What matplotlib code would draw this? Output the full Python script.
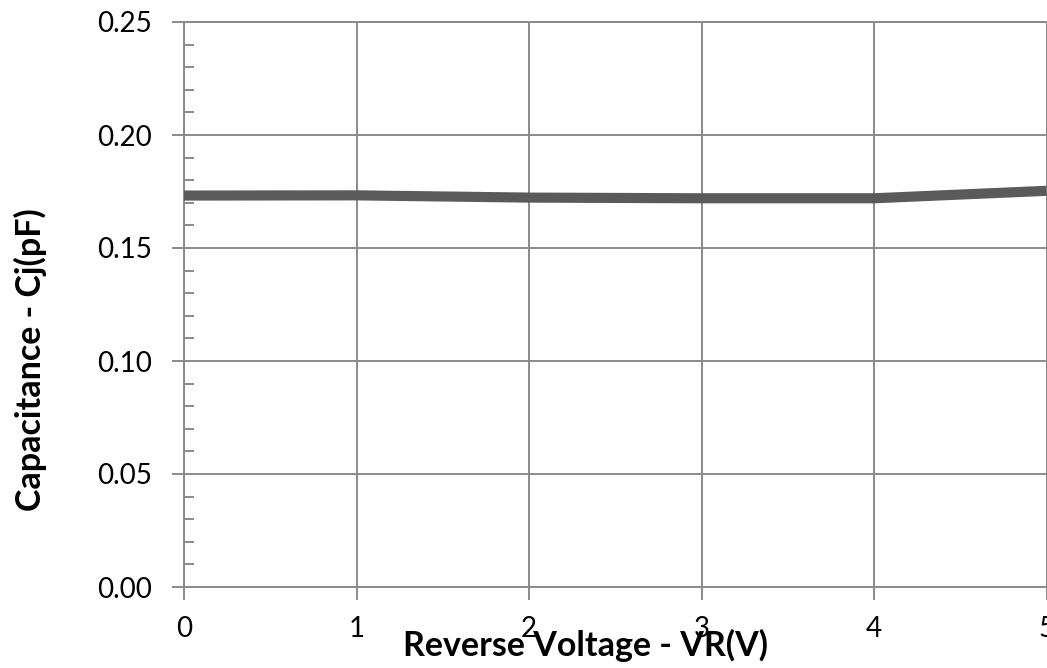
import matplotlib
matplotlib.use("Agg")
import matplotlib.pyplot as plt
from matplotlib.ticker import MultipleLocator

# Data
voltage = [0, 1, 2, 3, 4, 5]
capacitance = [0.1732, 0.1733, 0.1723, 0.1720, 0.1720, 0.1753]
x_ticks = [0, 1, 2, 3, 4, 5]
y_ticks = [0.00, 0.05, 0.10, 0.15, 0.20, 0.25]
y_tick_labels = ["0.00", "0.05", "0.10", "0.15", "0.20", "0.25"]
x_label = "Reverse Voltage - VR(V)"
y_label = "Capacitance - Cj(pF)"

plt.rcParams['font.family'] = ['Lato', 'DejaVu Sans']

W, H = 1047, 668
fig = plt.figure(figsize=(W / 100, H / 100), dpi=100)
ax = fig.add_axes([184 / W, 1 - 587 / H, (1046.5 - 184) / W, (587 - 22) / H])

grid_color = "#8a8a8a"
ax.plot(voltage, capacitance, color="#5a5a5a", linewidth=7.3,
        solid_joinstyle="round", solid_capstyle="butt", zorder=3, clip_on=False)

ax.set_xlim(0, 5)
ax.set_ylim(0, 0.25)
ax.set_xticks(x_ticks)
ax.set_xticklabels([str(v) for v in x_ticks])
ax.set_yticks(y_ticks)
ax.set_yticklabels(y_tick_labels)
ax.yaxis.set_minor_locator(MultipleLocator(0.01))

ax.grid(True, which="major", color=grid_color, linewidth=1.4)
ax.set_axisbelow(True)
for s in ax.spines.values():
    s.set_color(grid_color)
    s.set_linewidth(1.4)

ax.tick_params(axis="both", which="major", direction="out", length=9,
               width=1.4, color=grid_color, labelsize=20, labelcolor="black")
ax.tick_params(axis="y", which="major", pad=14)
ax.tick_params(axis="x", which="major", pad=12)
ax.tick_params(axis="y", which="minor", direction="in", length=7,
               width=1.4, color=grid_color)

ax.set_xlabel(x_label, fontsize=24.5, fontweight="bold", va="center")
ax.xaxis.set_label_coords((585.5 - 184) / (1046.5 - 184), (587 - 645) / 565)
ax.set_ylabel(y_label, fontsize=24.5, fontweight="bold", va="center")
ax.yaxis.set_label_coords((30 - 184) / (1046.5 - 184), (587 - 360) / 565)

fig.savefig("out.png", dpi=100)
